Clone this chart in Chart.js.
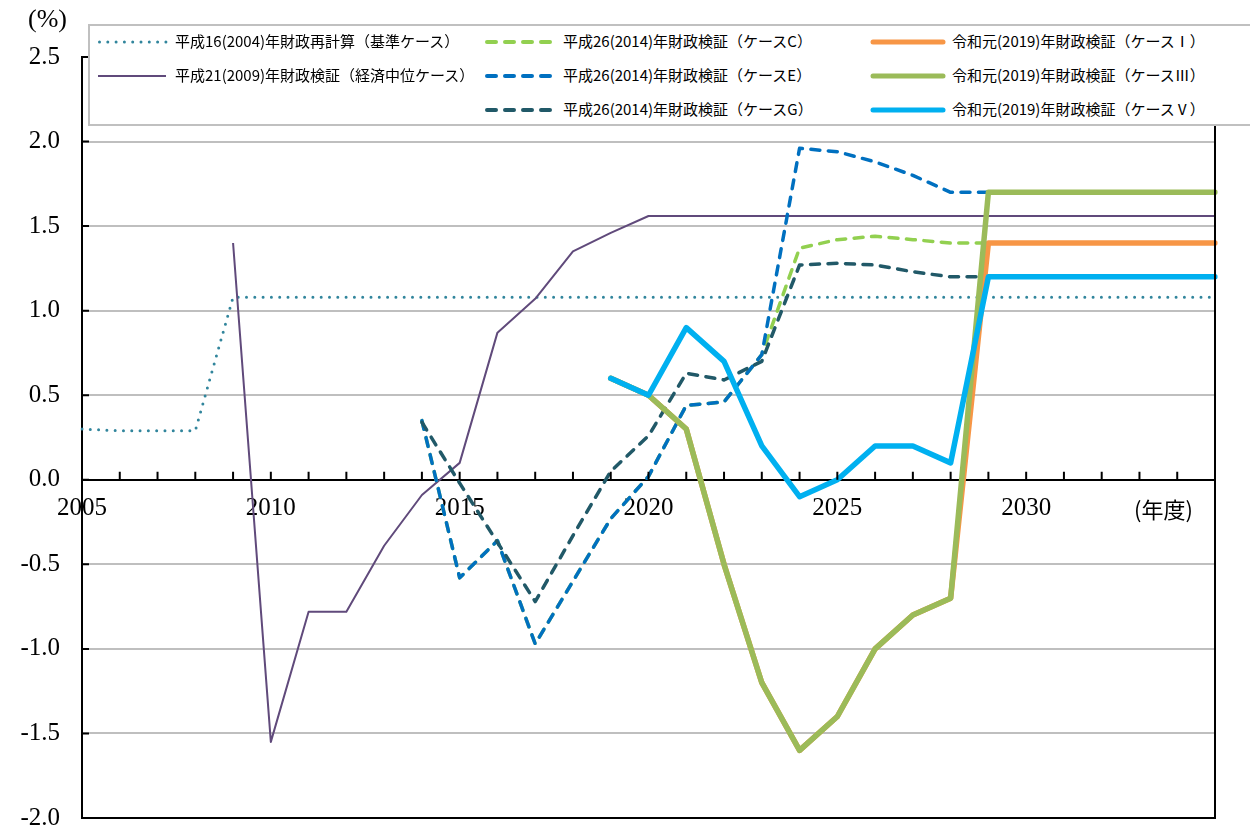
<!DOCTYPE html>
<html lang="ja">
<head>
<meta charset="utf-8">
<script src="https://cdn.jsdelivr.net/npm/chart.js@4.4.1/dist/chart.umd.min.js"></script>
<style>
html,body{margin:0;padding:0;background:#fff;}
#wrap{position:relative;width:1250px;height:832px;overflow:hidden;background:#fff;}
#c{position:absolute;left:0;top:0;}
#legendBox{position:absolute;left:88px;top:24px;width:1200px;height:102px;border:2px solid #c0c0c0;background:#fff;box-sizing:border-box;}
.lg{position:absolute;height:20px;line-height:20px;font-family:"Noto Sans CJK JP","Noto Sans",sans-serif;font-size:15px;color:#000;white-space:nowrap;}
.sw{position:absolute;}
.note{position:absolute;color:#000;white-space:nowrap;}
</style>
</head>
<body>
<div id="wrap">
  <canvas id="c" width="1250" height="832"></canvas>
  <div id="legendBox"></div>
  <div class="note" style="left:28px;top:4px;font-family:'Liberation Serif',serif;font-size:26px;">(%)</div>
  <div class="note" style="left:1134px;top:492px;font-family:'Noto Sans CJK JP',sans-serif;font-size:22px;">(年度)</div>
</div>
<script>
// ---- data ----
const years = ['2005','2006','2007','2008','2009','2010','2011','2012','2013','2014',
               '2015','2016','2017','2018','2019','2020','2021','2022','2023','2024',
               '2025','2026','2027','2028','2029','2030','2031','2032','2033','2034','2035'];
const xTickLabels = ['2005','2010','2015','2020','2025','2030'];
const yTickValues = [-2.0,-1.5,-1.0,-0.5,0.0,0.5,1.0,1.5,2.0,2.5];
const yTickLabels = ['-2.0','-1.5','-1.0','-0.5','0.0','0.5','1.0','1.5','2.0','2.5'];

const seriesLabels = [
  '平成16(2004)年財政再計算（基準ケース）',
  '平成21(2009)年財政検証（経済中位ケース）',
  '平成26(2014)年財政検証（ケースC）',
  '平成26(2014)年財政検証（ケースE）',
  '平成26(2014)年財政検証（ケースG）',
  '令和元(2019)年財政検証（ケースⅠ）',
  '令和元(2019)年財政検証（ケースⅢ）',
  '令和元(2019)年財政検証（ケースⅤ）'
];

const h16 = [0.30,0.29,0.29,0.29,1.08,1.08,1.08,1.08,1.08,1.08,
             1.08,1.08,1.08,1.08,1.08,1.08,1.08,1.08,1.08,1.08,
             1.08,1.08,1.08,1.08,1.08,1.08,1.08,1.08,1.08,1.08,1.08];
const h21 = [null,null,null,null,1.40,-1.55,-0.78,-0.78,-0.39,-0.09,
             0.10,0.87,1.07,1.35,1.46,1.56,1.56,1.56,1.56,1.56,
             1.56,1.56,1.56,1.56,1.56,1.56,1.56,1.56,1.56,1.56,1.56];
const h26C = [null,null,null,null,null,null,null,null,null,0.35,
              -0.58,-0.36,-0.97,-0.60,-0.23,0.02,0.44,0.46,0.74,1.37,
              1.42,1.44,1.42,1.40,1.40,null,null,null,null,null,null];
const h26E = [null,null,null,null,null,null,null,null,null,0.35,
              -0.58,-0.36,-0.97,-0.60,-0.23,0.02,0.44,0.46,0.74,1.96,
              1.94,1.88,1.80,1.70,1.70,null,null,null,null,null,null];
const h26G = [null,null,null,null,null,null,null,null,null,0.34,
              -0.02,-0.37,-0.72,-0.33,0.05,0.26,0.63,0.59,0.70,1.27,
              1.28,1.27,1.23,1.20,1.20,null,null,null,null,null,null];
const r1I  = [null,null,null,null,null,null,null,null,null,null,
              null,null,null,null,0.60,0.50,0.30,-0.50,-1.20,-1.60,
              -1.40,-1.00,-0.80,-0.70,1.40,1.40,1.40,1.40,1.40,1.40,1.40];
const r1III= [null,null,null,null,null,null,null,null,null,null,
              null,null,null,null,0.60,0.50,0.30,-0.50,-1.20,-1.60,
              -1.40,-1.00,-0.80,-0.70,1.70,1.70,1.70,1.70,1.70,1.70,1.70];
const r1V  = [null,null,null,null,null,null,null,null,null,null,
              null,null,null,null,0.60,0.50,0.90,0.70,0.20,-0.10,
              0.00,0.20,0.20,0.10,1.20,1.20,1.20,1.20,1.20,1.20,1.20];

// ---- styles ----
const styles = [
  {color:'#31859C', width:3,   dash:[0,8.3], cap:'round', kind:'dot'},
  {color:'#604A7B', width:2,   dash:[],      cap:'butt',  kind:'thin'},
  {color:'#92D050', width:3.5, dash:[9,8.5], cap:'round', kind:'dash'},
  {color:'#0070C0', width:3.5, dash:[9,8.5], cap:'round', kind:'dash'},
  {color:'#215968', width:3.5, dash:[9,8.5], cap:'round', kind:'dash'},
  {color:'#F79646', width:5.5, dash:[],      cap:'round', kind:'thick'},
  {color:'#9BBB59', width:5.5, dash:[],      cap:'round', kind:'thick'},
  {color:'#00B0F0', width:5.5, dash:[],      cap:'round', kind:'thick'}
];
const seriesData = [h16,h21,h26C,h26E,h26G,r1I,r1III,r1V];
const N = seriesData.length;

const datasets = seriesData.map((d,i)=>({
  label: seriesLabels[i],
  data: d,
  borderColor: styles[i].color,
  backgroundColor: styles[i].color,
  borderWidth: styles[i].width,
  borderDash: styles[i].dash,
  borderCapStyle: styles[i].cap,
  borderJoinStyle: 'round',
  pointRadius: 0,
  pointHoverRadius: 0,
  fill: false,
  tension: 0,
  spanGaps: false,
  order: N - 1 - i
}));

const framePlugin = {
  id: 'framePlugin',
  afterDraw(chart){
    const ctx = chart.ctx;
    const {left,right,top,bottom} = chart.chartArea;
    const ys = chart.scales.y, xs = chart.scales.x;
    ctx.save();
    ctx.strokeStyle = '#000';
    ctx.lineWidth = 2;
    ctx.beginPath();
    ctx.moveTo(right, top);
    ctx.lineTo(right, bottom);
    ctx.lineTo(left, bottom);
    ctx.stroke();
    ctx.beginPath();
    ys.ticks.forEach(t=>{
      const py = ys.getPixelForValue(t.value);
      ctx.moveTo(left, py); ctx.lineTo(left+7, py);
    });
    const y0 = ys.getPixelForValue(0);
    years.forEach((yr,i)=>{
      const px = xs.getPixelForValue(i);
      ctx.moveTo(px, y0); ctx.lineTo(px, y0-8);
    });
    ctx.stroke();
    ctx.restore();
  }
};

new Chart(document.getElementById('c'), {
  type: 'line',
  data: { labels: years, datasets },
  options: {
    responsive: false,
    animation: false,
    devicePixelRatio: 1,
    layout: { padding: { top: 57, right: 35, bottom: 14, left: 0 } },
    plugins: { legend: { display: false }, tooltip: { enabled: false }, title: { display: false } },
    scales: {
      x: {
        type: 'category',
        position: { y: 0 },
        offset: false,
        afterFit: (s) => { s.height = 0; },
        grid: { display: false, drawTicks: false },
        border: { display: true, color: '#000', width: 2 },
        ticks: {
          autoSkip: false, maxRotation: 0, minRotation: 0, padding: 14,
          color: '#000',
          font: { family: "'Liberation Serif', serif", size: 25 },
          callback: (v, i) => xTickLabels.includes(years[i]) ? years[i] : ''
        }
      },
      y: {
        type: 'linear',
        min: -2, max: 2.5,
        afterFit: (s) => { s.width = 82; },
        afterBuildTicks: (s) => { s.ticks = yTickValues.map(v => ({ value: v })); },
        grid: {
          drawTicks: true,
          tickLength: 22,
          tickColor: 'rgba(0,0,0,0)',
          lineWidth: 2,
          color: (c) => (c.tick && c.tick.value === 0) ? '#000' : '#bfbfbf'
        },
        border: { display: true, color: '#000', width: 2 },
        ticks: {
          padding: 0,
          color: '#000',
          font: { family: "'Liberation Serif', serif", size: 25, lineHeight: 1.1 },
          callback: (v, i) => yTickLabels[i]
        }
      }
    }
  },
  plugins: [framePlugin]
});

// ---- HTML legend (built from the series labels/styles) ----
const legendPos = [
  {lx:98,  tx:175, y:42},
  {lx:98,  tx:175, y:76},
  {lx:487, tx:563, y:42},
  {lx:487, tx:563, y:76},
  {lx:487, tx:563, y:110},
  {lx:873, tx:952, y:42},
  {lx:873, tx:952, y:76},
  {lx:873, tx:952, y:110}
];
const legendLen = [68, 68, 63, 63, 63, 70, 70, 70];
const wrap = document.getElementById('wrap');
const svgNS = 'http://www.w3.org/2000/svg';
seriesLabels.forEach((lab,i)=>{
  const p = legendPos[i], st = styles[i], L = legendLen[i];
  const svg = document.createElementNS(svgNS,'svg');
  svg.setAttribute('width', L+8); svg.setAttribute('height', 12);
  svg.setAttribute('class','sw');
  svg.style.left = (p.lx-4)+'px'; svg.style.top = (p.y-6)+'px';
  const ln = document.createElementNS(svgNS,'line');
  ln.setAttribute('x1', 4 + (st.kind==='dot'?1.5:0)); ln.setAttribute('y1', 6);
  ln.setAttribute('x2', 4+L); ln.setAttribute('y2', 6);
  ln.setAttribute('stroke', st.color);
  let w = st.width, da = '';
  if (st.kind==='dot') { w = 3; da = '0 8.3'; }
  if (st.kind==='dash') { w = 4; da = '9 9'; }
  if (st.kind==='thick') { w = 5; }
  ln.setAttribute('stroke-width', w);
  ln.setAttribute('stroke-linecap', st.kind==='thin' ? 'butt' : 'round');
  if (da) ln.setAttribute('stroke-dasharray', da);
  svg.appendChild(ln);
  wrap.appendChild(svg);
  const t = document.createElement('div');
  t.className = 'lg';
  t.style.left = p.tx+'px'; t.style.top = (p.y-11)+'px';
  t.textContent = lab;
  wrap.appendChild(t);
});
</script>
</body>
</html>
